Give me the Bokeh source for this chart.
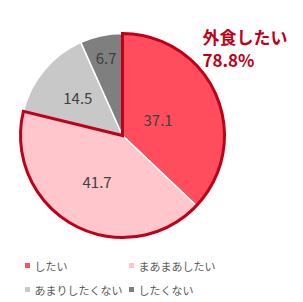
import numpy as np
from bokeh.plotting import figure
from bokeh.models import Range1d, ColumnDataSource
from bokeh.core.properties import value
from bokeh.embed import file_html
from bokeh.resources import INLINE

categories = ["したい", "まあまあしたい", "あまりしたくない", "したくない"]
values = [37.1, 41.7, 14.5, 6.7]
labels = ["37.1", "41.7", "14.5", "6.7"]
colors = ["#FF4D5E", "#FFC6CC", "#C8C8C8", "#7F7F7F"]
highlight_title = "外食したい"
highlight_value = "78.8%"

W, H = 303, 302
FONT = "Noto Sans CJK JP"

p = figure(width=W, height=H, output_backend="svg", toolbar_location=None,
           x_range=Range1d(0, W), y_range=Range1d(0, H), min_border=0)
p.axis.visible = False
p.grid.visible = False
p.outline_line_color = None
p.background_fill_color = "white"
p.border_fill_color = "white"

cx, cy, R = 122, H - 135, 102

v = np.array(values)
frac = v / v.sum()
cum = np.concatenate([[0], np.cumsum(frac)])
start = np.pi / 2 - 2 * np.pi * cum[1:]
end = np.pi / 2 - 2 * np.pi * cum[:-1]

src = ColumnDataSource(dict(start=start, end=end, color=colors))
p.wedge(x=cx, y=cy, radius=R, start_angle="start", end_angle="end",
        fill_color="color", line_color="white", line_width=1.5, source=src)

# highlight outline around first two slices
p.wedge(x=cx, y=cy, radius=R, start_angle=start[1], end_angle=end[0],
        fill_color=None, line_color="#C00018", line_width=3, line_join="miter")

# data labels
label_r = [0.38, 0.52, 0.57, 0.77]
mid = (start + end) / 2
lx = cx + np.array(label_r) * R * np.cos(mid)
ly = cy + np.array(label_r) * R * np.sin(mid)
p.text(x=lx, y=ly, text=labels, text_align="center", text_baseline="middle",
       text_font=value(FONT), text_font_size="15px", text_color="#404040")

# highlight annotation
p.text(x=[202, 202], y=[H - 36, H - 59], text=[highlight_title, highlight_value],
       text_align="left", text_baseline="middle", text_font=value(FONT),
       text_font_size="17px", text_font_style="bold", text_color="#C00018")

# legend
lgx = [27, 131, 27, 131]
lgy = [H - 265, H - 265, H - 289, H - 289]
p.rect(x=lgx, y=lgy, width=5, height=5, fill_color=colors, line_color=None)
p.text(x=[x + 7 for x in lgx], y=lgy, text=categories, text_align="left",
       text_baseline="middle", text_font=value(FONT), text_font_size="11px",
       text_color="#595959")

open("out.html", "w").write(file_html(p, INLINE))
